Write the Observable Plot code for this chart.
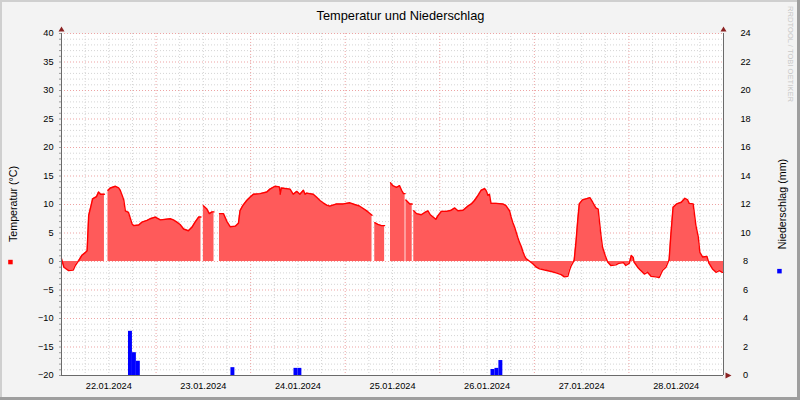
<!DOCTYPE html>
<html>
<head>
<meta charset="utf-8">
<script src="https://cdn.jsdelivr.net/npm/d3@7"></script>
<script src="https://cdn.jsdelivr.net/npm/@observablehq/plot@0.6"></script>
<style>
  body { margin: 0; background: #f3f3f3; }
  #chart { width: 800px; height: 400px; }
</style>
</head>
<body>
<div id="chart"></div>
<script>
// ---- data ----
const title = "Temperatur und Niederschlag";
const leftLabel = "Temperatur (°C)";
const rightLabel = "Niederschlag (mm)";
const watermark = "RRDTOOL / TOBI OETIKER";

const startDate = Date.UTC(2024, 0, 22);
const endDate = Date.UTC(2024, 0, 29);
const dayLabelDays = [22, 23, 24, 25, 26, 27, 28];

const tempTicks = [-20, -15, -10, -5, 0, 5, 10, 15, 20, 25, 30, 35, 40];
const precipTicks = [0, 2, 4, 6, 8, 10, 12, 14, 16, 18, 20, 22, 24];

// hours since 22.01.2024 00:00 and temperature (°C); null = no data
const tempHours = [
  0,0.6,1.8,3.0,3.5,4.4,5.2,6.1,6.5,6.9,7.5,7.9,8.9,9.4,9.9,10.9,11.3,
  11.8,12.4,13.7,14.5,14.9,15.4,15.8,16.2,17.0,17.5,17.9,18.3,19.6,20.4,21.7,22.5,23.8,25.1,27.6,28.4,29.3,30.1,31.0,32.2,33.1,33.9,34.8,35.4,35.7,
  36.0,36.9,37.5,38.2,38.7,39.4,
  40.1,41.1,42.0,42.8,44.1,44.9,45.3,46.0,47.0,47.9,48.7,50.4,52.1,52.9,54.2,55.3,55.5,55.8,58.0,58.8,59.7,60.5,61.4,61.8,62.2,63.9,64.7,65.6,66.4,67.3,68.1,69.8,71.5,73.2,74.4,75.7,77.0,77.8,78.8,79.1,
  79.5,80.3,81.2,82.0,82.7,
  83.5,84.1,85.0,85.8,86.3,86.8,87.2,87.3,
  87.4,88.4,89.0,89.2,
  89.4,90.1,91.3,92.2,93.0,93.6,94.3,95.0,95.5,96.4,97.7,98.9,99.8,100.6,101.9,103.1,104.0,104.8,105.7,106.5,107.4,107.8,108.2,108.6,109.0,110.3,112.0,112.8,113.7,114.1,114.5,115.0,115.4,115.8,116.2,116.7,117.1,117.5,117.9,118.8,119.6,120.5,121.3,122.6,124.3,125.5,126.8,127.6,128.5,128.9,129.3,130.1,130.6,131.0,131.4,132.2,133.1,134.1,134.8,135.6,136.2,136.5,136.9,137.3,138.0,138.6,139.4,140.7,141.5,142.6,143.2,144.1,144.6,145.1,145.3,146.2,147.0,147.9,148.7,149.6,150.8,151.7,152.5,153.4,154.2,154.6,155.2,156.1,157.3,158.2,158.9,159.3,160.3,161.0,161.6,162.0,162.7,163.8,164.3,165.2,166.1,166.9,167.7,168.0
];
const tempValues = [
  0.5,-1.0,-1.6,-1.5,-0.7,0.2,1.1,1.6,1.9,8.1,9.8,11.0,11.4,12.2,11.8,11.8,null,
  12.5,12.9,13.2,12.9,12.5,11.6,10.8,8.9,8.6,7.5,6.6,6.3,6.4,6.9,7.2,7.5,7.8,7.3,7.5,7.3,6.9,6.5,5.7,5.4,6.0,6.9,7.8,7.8,null,
  9.8,9.2,8.4,8.7,8.7,null,
  8.4,8.4,7.0,6.1,6.2,6.7,8.9,9.8,10.7,11.3,11.8,11.9,12.2,12.7,13.2,13.1,11.8,12.9,12.7,11.8,12.3,11.8,12.5,11.8,12.0,11.8,11.3,10.7,10.3,9.9,9.7,10.1,10.1,10.3,10.0,9.7,9.1,8.7,8.1,null,
  6.8,6.5,6.3,6.3,null,
  13.8,13.3,13.0,13.3,12.5,11.9,11.9,null,
  10.8,10.1,10.1,null,
  8.9,8.4,8.2,8.6,8.9,8.2,7.8,7.4,8.0,8.8,8.8,9.0,9.4,8.9,9.0,9.7,10.1,10.7,11.6,12.5,12.8,12.4,11.6,11.8,10.2,10.2,10.1,9.8,8.9,7.8,6.9,6.0,5.1,4.2,3.4,2.6,1.7,1.0,0.5,0.05,-0.4,-1.0,-1.3,-1.5,-1.75,-2.0,-2.3,-2.7,-2.6,-1.6,-0.8,0.2,3.7,7.2,10.1,10.8,11.0,11.2,10.4,9.4,9.2,7.2,4.6,2.5,1.0,-0.1,-0.7,-0.6,-0.3,-0.2,-0.7,-0.3,1.05,0.7,-0.1,-1.0,-1.6,-2.2,-1.9,-2.6,-2.7,-2.8,-1.6,-1.0,0.3,4.3,9.5,10.1,10.4,11.1,10.8,10.2,10.1,6.3,4.3,1.6,0.8,0.9,-0.3,-1.3,-1.9,-1.6,-1.9,-1.9
];

// hourly precipitation: start hour since 22.01.2024 00:00, amount (mm)
const precipHours = [17, 18, 19, 43, 59, 60, 109, 110, 111];
const precipMm = [3.1, 1.6, 1.0, 0.55, 0.5, 0.5, 0.42, 0.5, 1.05];

// ---- build ----
const HOUR = 3600e3;
const t0 = new Date(startDate), t1 = new Date(endDate);
// right axis (0..24 mm) shares the vertical range of the left axis (-20..40 °C)
const mmToT = mm => -20 + mm * 2.5;

const temp = tempHours.map((h, i) => ({t: new Date(startDate + h * HOUR), v: tempValues[i]}));
const precip = precipHours.map((h, i) => ({
  a: new Date(startDate + h * HOUR), b: new Date(startDate + (h + 1) * HOUR), mm: precipMm[i]
}));

const minorX = [], majorX = [];
for (let h = 6; h < 168; h += 6) (h % 24 === 0 ? majorX : minorX).push(new Date(startDate + h * HOUR));
const minorY = d3.range(-20, 41, 1).filter(v => v % 5 !== 0);
const majorY = tempTicks.filter(v => v > -20);
const noonTicks = dayLabelDays.map(d => new Date(Date.UTC(2024, 0, d, 12)));

const upArrow = {draw(ctx) { ctx.moveTo(0, -7); ctx.lineTo(3, -2); ctx.lineTo(-3, -2); ctx.closePath(); }};
const rightArrow = {draw(ctx) { ctx.moveTo(8, 0); ctx.lineTo(2, -3); ctx.lineTo(2, 3); ctx.closePath(); }};

const gridMinor = {stroke: "#d4d4d4", strokeOpacity: 1, strokeDasharray: "1,2"};
const gridMajor = {stroke: "#eda3a3", strokeOpacity: 1, strokeDasharray: "1,2"};

const plot = Plot.plot({
  width: 800, height: 400,
  marginLeft: 61, marginRight: 77, marginTop: 33, marginBottom: 25,
  style: {background: "#f3f3f3", fontFamily: "'Liberation Sans', Arial, sans-serif", fontSize: "9.2px", color: "#000", overflow: "visible"},
  x: {type: "utc", domain: [t0, t1], axis: null},
  y: {domain: [-20, 40], axis: null},
  marks: [
    Plot.frame({fill: "white", stroke: "none"}),
    Plot.gridY(minorY, gridMinor),
    Plot.gridX(minorX, gridMinor),
    Plot.gridY(majorY, gridMajor),
    Plot.gridX(majorX, gridMajor),
    Plot.areaY(temp, {x: "t", y1: () => 0, y2: "v", fill: "#ff5a5a", curve: "linear"}),
    Plot.lineY(temp, {x: "t", y: "v", stroke: "#ff0000", strokeWidth: 1.4, curve: "linear"}),
    Plot.rect(precip, {x1: "a", x2: "b", y1: () => mmToT(0), y2: d => mmToT(d.mm), fill: "#0000ff", inset: 0}),
    Plot.axisY({anchor: "left", ticks: d3.range(-20, 41, 1), tickSize: 2, tickFormat: () => "", stroke: "#9a9a9a"}),
    Plot.ruleX([t0, t1], {stroke: "#6a6a6a"}),
    Plot.ruleY([-20], {stroke: "#6a6a6a"}),
    Plot.dot([{x: t0, y: 40}, {x: t1, y: 40}], {x: "x", y: "y", symbol: upArrow, fill: "#8b2222", stroke: "none"}),
    Plot.dot([{x: t1, y: -20}], {x: "x", y: "y", symbol: rightArrow, fill: "#8b2222", stroke: "none"}),
    Plot.axisY({anchor: "left", ticks: tempTicks, tickSize: 0, tickPadding: 8, label: null, fill: "#000"}),
    Plot.axisY({anchor: "right", ticks: precipTicks.map(mmToT), tickSize: 0, tickPadding: 22, textAnchor: "middle",
      tickFormat: d => String(Math.round((d + 20) / 2.5)), label: null, fill: "#000"}),
    Plot.axisX({anchor: "bottom", ticks: noonTicks, tickSize: 0, tickPadding: 6.5,
      tickFormat: d3.utcFormat("%d.%m.%Y"), label: null, fill: "#000"})
  ]
});

const svg = d3.select(plot);
const ff = "'Liberation Sans', Arial, sans-serif";
svg.append("text").attr("x", 400.5).attr("y", 20).attr("text-anchor", "middle")
  .attr("fill", "#000").style("font-size", "12.8px").style("font-family", ff).text(title);
svg.append("text").attr("transform", "translate(12.5,204) rotate(-90)").attr("text-anchor", "middle")
  .attr("dominant-baseline", "central").attr("fill", "#000").style("font-size", "10.7px").style("font-family", ff).text(leftLabel);
svg.append("text").attr("transform", "translate(781.5,204) rotate(-90)").attr("text-anchor", "middle")
  .attr("dominant-baseline", "central").attr("fill", "#000").style("font-size", "10.7px").style("font-family", ff).text(rightLabel);
svg.append("text").attr("transform", "translate(790.5,54) rotate(90)").attr("text-anchor", "middle")
  .attr("dominant-baseline", "central").attr("fill", "#c8c8c8").style("font-size", "7.6px").style("font-family", ff).text(watermark);
svg.append("rect").attr("x", 8.2).attr("y", 259.8).attr("width", 4.5).attr("height", 4.5).attr("fill", "#ff0000");
svg.append("rect").attr("x", 777.2).attr("y", 268.9).attr("width", 4.5).attr("height", 4.5).attr("fill", "#0000ff");
// canvas shading (3D border)
svg.append("rect").attr("x", 0).attr("y", 0).attr("width", 800).attr("height", 2).attr("fill", "#cfcfcf");
svg.append("rect").attr("x", 0).attr("y", 0).attr("width", 2).attr("height", 400).attr("fill", "#cfcfcf");
svg.append("rect").attr("x", 797).attr("y", 0).attr("width", 3).attr("height", 400).attr("fill", "#9e9e9e");
svg.append("rect").attr("x", 0).attr("y", 397).attr("width", 800).attr("height", 3).attr("fill", "#9e9e9e");

document.getElementById("chart").appendChild(plot);
</script>
</body>
</html>
